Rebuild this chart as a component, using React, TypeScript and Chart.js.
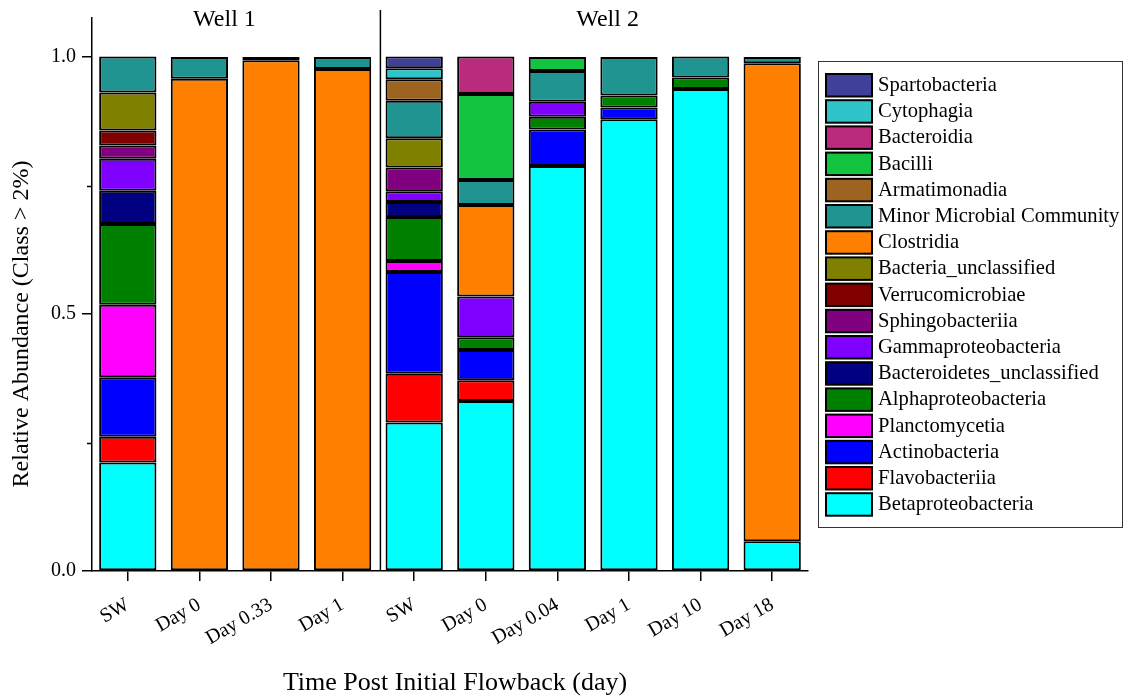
import React, { useEffect, useRef } from 'react';
import { Chart, registerables } from 'chart.js';

Chart.register(...registerables);

// ---------- data ----------
const categories = ['SW', 'Day 0', 'Day 0.33', 'Day 1', 'SW', 'Day 0', 'Day 0.04', 'Day 1', 'Day 10', 'Day 18'];
const wellTitles = ['Well 1', 'Well 2'];
const yTickValues = [0, 0.5, 1.0];
const yMinorTickValues = [0.25, 0.75];

// stacked bottom -> top
const betaproteobacteria = [0.211, 0, 0, 0, 0.289, 0.331, 0.788, 0.879, 0.938, 0.058];
const flavobacteriia = [0.050, 0, 0, 0, 0.095, 0.040, 0, 0, 0, 0];
const actinobacteria = [0.116, 0, 0, 0, 0.198, 0.059, 0.071, 0.023, 0, 0];
const planctomycetia = [0.141, 0, 0, 0, 0.021, 0, 0, 0, 0, 0];
const alphaproteobacteria = [0.157, 0, 0, 0, 0.086, 0.025, 0.025, 0.023, 0.022, 0];
const bacteroidetesUnclassified = [0.065, 0, 0, 0, 0.029, 0, 0, 0, 0, 0];
const gammaproteobacteria = [0.062, 0, 0, 0, 0.021, 0.079, 0.029, 0, 0, 0];
const sphingobacteriia = [0.026, 0, 0, 0, 0.046, 0, 0, 0, 0, 0];
const verrucomicrobiae = [0.029, 0, 0, 0, 0, 0, 0, 0, 0, 0];
const bacteriaUnclassified = [0.074, 0, 0, 0, 0.057, 0, 0, 0, 0, 0];
const clostridia = [0, 0.958, 0.994, 0.977, 0, 0.178, 0, 0, 0, 0.930];
const minorCommunity = [0.070, 0.042, 0.006, 0.023, 0.073, 0.049, 0.060, 0.075, 0.041, 0.012];
const armatimonadia = [0, 0, 0, 0, 0.042, 0, 0, 0, 0, 0];
const bacilli = [0, 0, 0, 0, 0, 0.167, 0.027, 0, 0, 0];
const bacteroidia = [0, 0, 0, 0, 0, 0.073, 0, 0, 0, 0];
const cytophagia = [0, 0, 0, 0, 0.021, 0, 0, 0, 0, 0];
const spartobacteria = [0, 0, 0, 0, 0.023, 0, 0, 0, 0, 0];

const seriesNames = [
  'Betaproteobacteria', 'Flavobacteriia', 'Actinobacteria', 'Planctomycetia', 'Alphaproteobacteria',
  'Bacteroidetes_unclassified', 'Gammaproteobacteria', 'Sphingobacteriia', 'Verrucomicrobiae',
  'Bacteria_unclassified', 'Clostridia', 'Minor Microbial Community', 'Armatimonadia', 'Bacilli',
  'Bacteroidia', 'Cytophagia', 'Spartobacteria',
];
const seriesValues = [
  betaproteobacteria, flavobacteriia, actinobacteria, planctomycetia, alphaproteobacteria,
  bacteroidetesUnclassified, gammaproteobacteria, sphingobacteriia, verrucomicrobiae,
  bacteriaUnclassified, clostridia, minorCommunity, armatimonadia, bacilli,
  bacteroidia, cytophagia, spartobacteria,
];
const seriesColors = [
  '#00FFFF', '#FF0000', '#0000FF', '#FF00FF', '#008000',
  '#000080', '#8000FF', '#800080', '#800000',
  '#808000', '#FF8000', '#1F9491', '#9C6420', '#12C43F',
  '#BA2A7D', '#2EC4CA', '#40409A',
];

const FONT = "'Liberation Serif', 'Times New Roman', serif";

export default function App() {
  const ref = useRef<HTMLCanvasElement>(null);

  useEffect(() => {
    const canvas = ref.current;
    if (!canvas) return;

    const datasets = seriesNames.map((name, i) => ({
      label: name,
      data: seriesValues[i].map((v) => (v === 0 ? null : v)),
      backgroundColor: seriesColors[i],
      borderColor: '#000000',
      borderWidth: 2,
      borderSkipped: false as const,
      barPercentage: 0.8,
      categoryPercentage: 1.0,
    }));

    const overlay = {
      id: 'overlay',
      afterDraw(chart: any) {
        const { ctx, chartArea, scales } = chart;
        const xs = scales.x;
        const ys = scales.y;
        ctx.save();
        ctx.fillStyle = '#000';
        ctx.strokeStyle = '#000';

        // minor y ticks
        ctx.lineWidth = 1.5;
        yMinorTickValues.forEach((v) => {
          const py = Math.round(ys.getPixelForValue(v)) + 0.5;
          ctx.beginPath();
          ctx.moveTo(chartArea.left - 5, py);
          ctx.lineTo(chartArea.left, py);
          ctx.stroke();
        });

        // divider between wells
        const divX = (xs.getPixelForValue(3) + xs.getPixelForValue(4)) / 2 + 2;
        ctx.lineWidth = 1.5;
        ctx.beginPath();
        ctx.moveTo(divX, 10);
        ctx.lineTo(divX, chartArea.bottom);
        ctx.stroke();

        // well titles
        const step = (chartArea.right - chartArea.left) / categories.length;
        ctx.font = `24px ${FONT}`;
        ctx.textAlign = 'center';
        ctx.textBaseline = 'middle';
        ctx.fillText(wellTitles[0], chartArea.left + 1.85 * step, 20);
        ctx.fillText(wellTitles[1], chartArea.left + 7.2 * step, 20);

        // axis titles
        ctx.save();
        ctx.translate(22, 324);
        ctx.rotate(-Math.PI / 2);
        ctx.fillText('Relative Abundance (Class > 2%)', 0, 0);
        ctx.restore();
        ctx.font = `26px ${FONT}`;
        ctx.fillText('Time Post Initial Flowback (day)', 455, 683);

        // legend
        const lx = 818, ly = 61, lw = 304, lh = 466;
        ctx.lineWidth = 1;
        ctx.strokeStyle = '#333';
        ctx.strokeRect(lx + 0.5, ly + 0.5, lw, lh);
        ctx.font = `20.6px ${FONT}`;
        ctx.textAlign = 'left';
        ctx.textBaseline = 'middle';
        const ds = chart.data.datasets;
        for (let k = 0; k < ds.length; k++) {
          const d = ds[ds.length - 1 - k];
          const by = 74 + k * 26.2;
          ctx.fillStyle = d.backgroundColor;
          ctx.fillRect(826, by, 46, 22.5);
          ctx.strokeStyle = '#000';
          ctx.lineWidth = 2;
          ctx.strokeRect(826, by, 46, 22.5);
          ctx.fillStyle = '#000';
          ctx.fillText(d.label, 878, by + 11.5);
        }
        ctx.restore();
      },
    };

    const chart = new Chart(canvas, {
      type: 'bar',
      data: { labels: categories, datasets },
      options: {
        responsive: false,
        animation: false,
        devicePixelRatio: 1,
        layout: { padding: { left: 0, top: 18, right: 317, bottom: 0 } },
        plugins: { legend: { display: false }, tooltip: { enabled: false } },
        scales: {
          x: {
            stacked: true,
            grid: { display: true, drawOnChartArea: false, offset: false, tickLength: 10, color: '#000', lineWidth: 1.5 },
            border: { display: true, color: '#000', width: 1.5 },
            ticks: {
              color: '#000',
              font: { family: FONT, size: 20 },
              minRotation: 30,
              maxRotation: 30,
              padding: 12,
              autoSkip: false,
            },
            afterFit: (s: any) => { s.height = 127; },
          },
          y: {
            stacked: true,
            min: 0,
            max: 1.076,
            afterBuildTicks: (s: any) => { s.ticks = yTickValues.map((v) => ({ value: v })); },
            grid: { display: true, drawOnChartArea: false, tickLength: 10, color: '#000', lineWidth: 1.5 },
            border: { display: true, color: '#000', width: 1.5 },
            ticks: {
              color: '#000',
              font: { family: FONT, size: 20 },
              padding: 6,
              callback: (v: any) => Number(v).toFixed(1),
            },
            afterFit: (s: any) => { s.width = 92; },
          },
        },
      },
      plugins: [overlay],
    });

    return () => chart.destroy();
  }, []);

  return (
    <div style={{ position: 'absolute', left: 0, top: 0, width: 1125, height: 698, background: '#fff' }}>
      <canvas ref={ref} width={1125} height={698} style={{ display: 'block', width: 1125, height: 698 }} />
    </div>
  );
}
